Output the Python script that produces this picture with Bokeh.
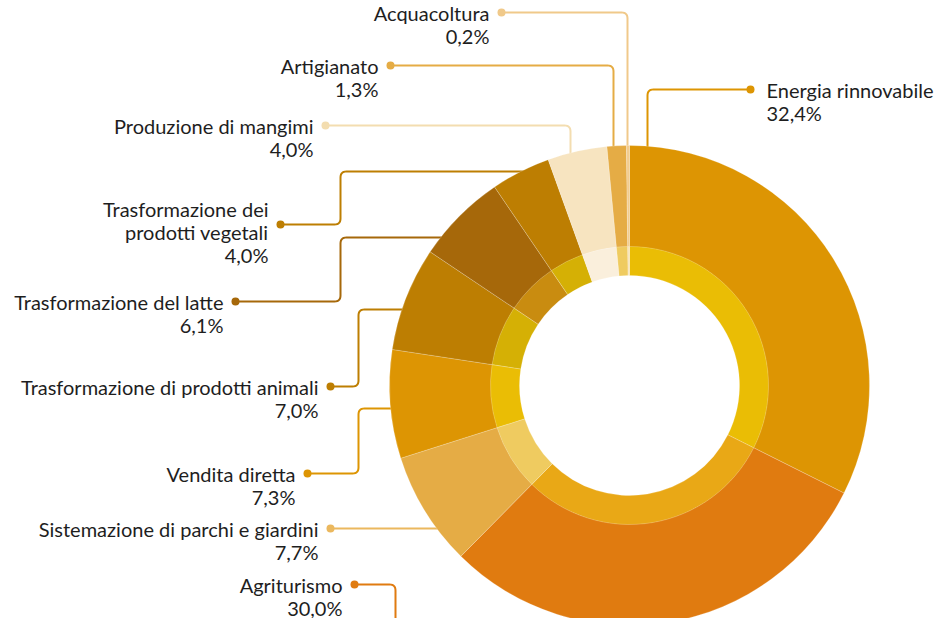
import math
import numpy as np
from bokeh.plotting import figure
from bokeh.models import Range1d
from bokeh.core.properties import value
from bokeh.embed import file_html
from bokeh.resources import INLINE

# ---------------- data ----------------
categories = ["Energia rinnovabile", "Agriturismo", "Sistemazione di parchi e giardini",
              "Vendita diretta", "Trasformazione di prodotti animali", "Trasformazione del latte",
              "Trasformazione dei prodotti vegetali", "Produzione di mangimi", "Artigianato",
              "Acquacoltura"]
shares = [32.4, 30.0, 7.7, 7.3, 7.0, 6.1, 4.0, 4.0, 1.3, 0.2]
label_lines = [["Energia rinnovabile"], ["Agriturismo"], ["Sistemazione di parchi e giardini"],
               ["Vendita diretta"], ["Trasformazione di prodotti animali"], ["Trasformazione del latte"],
               ["Trasformazione dei", "prodotti vegetali"], ["Produzione di mangimi"], ["Artigianato"],
               ["Acquacoltura"]]

# ---------------- styles ----------------
outer_colors = ["#DD9503", "#E07B10", "#E5AC45", "#DD9503", "#BD7E02", "#A6680A",
                "#BD7E02", "#F7E4C0", "#E5AC45", "#F2CC8F"]
inner_colors = ["#EABD05", "#E9A816", "#EFCB60", "#EABD05", "#D5B005", "#C98C10",
                "#D5B005", "#FAEFDC", "#EFCB60", "#F7E2BC"]
dot_colors = ["#DD9503", "#E07B10", "#EBB85E", "#DD9503", "#BD7E02", "#A6680A",
              "#BD7E02", "#F3DDB0", "#E5AC45", "#F0C98A"]

W, H = 935, 618
X0, Y0 = 10, 12          # reference-pixel offset of the figure's top-left corner
CX, CY = 639, 397
R_OUT, R_MID, R_IN = 240, 139, 110
FONT = "Lato"
FS = "20px"
LINE_H = 23

p = figure(width=W, height=H, output_backend="svg", toolbar_location=None,
           x_range=Range1d(X0, X0 + W), y_range=Range1d(-(Y0 + H), -Y0),
           min_border=0, outline_line_color=None)
p.axis.visible = False
p.grid.visible = False
p.background_fill_color = "white"
p.border_fill_color = "white"


def Y(sy):
    return -sy


def arc_x(sy, inset=4):
    dy = sy - CY
    return CX - math.sqrt(max(R_OUT ** 2 - dy ** 2, 0)) + inset


def arc_y(sx, inset=4):
    dx = sx - CX
    return CY - math.sqrt(max(R_OUT ** 2 - dx ** 2, 0)) + inset


def rounded(pts, r=6, n=8):
    out = [pts[0]]
    for i in range(1, len(pts) - 1):
        p0, p1, p2 = np.array(pts[i - 1], float), np.array(pts[i], float), np.array(pts[i + 1], float)
        v1 = (p0 - p1) / np.linalg.norm(p0 - p1)
        v2 = (p2 - p1) / np.linalg.norm(p2 - p1)
        a = p1 + v1 * r
        b = p1 + v2 * r
        for t in np.linspace(0, 1, n):
            q = (1 - t) ** 2 * a + 2 * (1 - t) * t * p1 + t ** 2 * b
            out.append(tuple(q))
    out.append(pts[-1])
    return out


# leader layout (screen px): dot position, path after dot, label anchor side
layout = [
    dict(dot=(760, 101), path=[(657, 101), (657, arc_y(657))], side="right"),
    dict(dot=(364, 596), path=[(405, 596), (405, 660)], side="left"),
    dict(dot=(340, 540), path=[(arc_x(540), 540)], side="left"),
    dict(dot=(317, 485), path=[(368, 485), (368, 420), (arc_x(420), 420)], side="left"),
    dict(dot=(340, 398), path=[(368, 398), (368, 321), (arc_x(321), 321)], side="left"),
    dict(dot=(245, 313), path=[(350, 313), (350, 249), (arc_x(249), 249)], side="left"),
    dict(dot=(290, 236), path=[(350, 236), (350, 183), (arc_x(183), 183)], side="left", first_y=220),
    dict(dot=(335, 137), path=[(580, 137), (580, arc_y(580))], side="left"),
    dict(dot=(400, 77), path=[(623, 77), (623, arc_y(623))], side="left"),
    dict(dot=(511, 24), path=[(637, 24), (637, arc_y(637))], side="left"),
]

# leader lines first (wedges drawn on top)
for i, lay in enumerate(layout):
    pts = rounded([lay["dot"]] + lay["path"])
    p.line([q[0] for q in pts], [Y(q[1]) for q in pts], line_color=dot_colors[i], line_width=2)

# wedges
cum = np.concatenate([[0], np.cumsum(shares)])
starts = [math.pi / 2 - 2 * math.pi * cum[i] / 100 for i in range(len(shares))]
ends = [math.pi / 2 - 2 * math.pi * cum[i + 1] / 100 for i in range(len(shares))]
xs = [CX] * len(shares)
ys = [Y(CY)] * len(shares)
p.annular_wedge(x=xs, y=ys, inner_radius=R_MID - 0.5, outer_radius=R_OUT,
                start_angle=starts, end_angle=ends, direction="clock",
                fill_color=outer_colors, line_color="white", line_alpha=0.35, line_width=0.6)
p.annular_wedge(x=xs, y=ys, inner_radius=R_IN, outer_radius=R_MID,
                start_angle=starts, end_angle=ends, direction="clock",
                fill_color=inner_colors, line_color="white", line_alpha=0.35, line_width=0.6)

# dots
p.scatter([l["dot"][0] for l in layout], [Y(l["dot"][1]) for l in layout],
          size=8, fill_color=dot_colors, line_color=None)

# labels
for i, lay in enumerate(layout):
    lines = label_lines[i] + [f"{shares[i]:.1f}".replace(".", ",") + "%"]
    dx, dy = lay["dot"]
    y0 = lay.get("first_y", dy)
    if lay["side"] == "left":
        tx, align = dx - 12, "right"
    else:
        tx, align = dx + 16, "left"
    p.text([tx] * len(lines), [Y(y0 + k * LINE_H) for k in range(len(lines))], text=lines,
           text_align=align, text_baseline="middle", text_font=value(FONT),
           text_font_size=FS, text_color="#1e1e1e")

open("out.html", "w").write(file_html(p, INLINE))
